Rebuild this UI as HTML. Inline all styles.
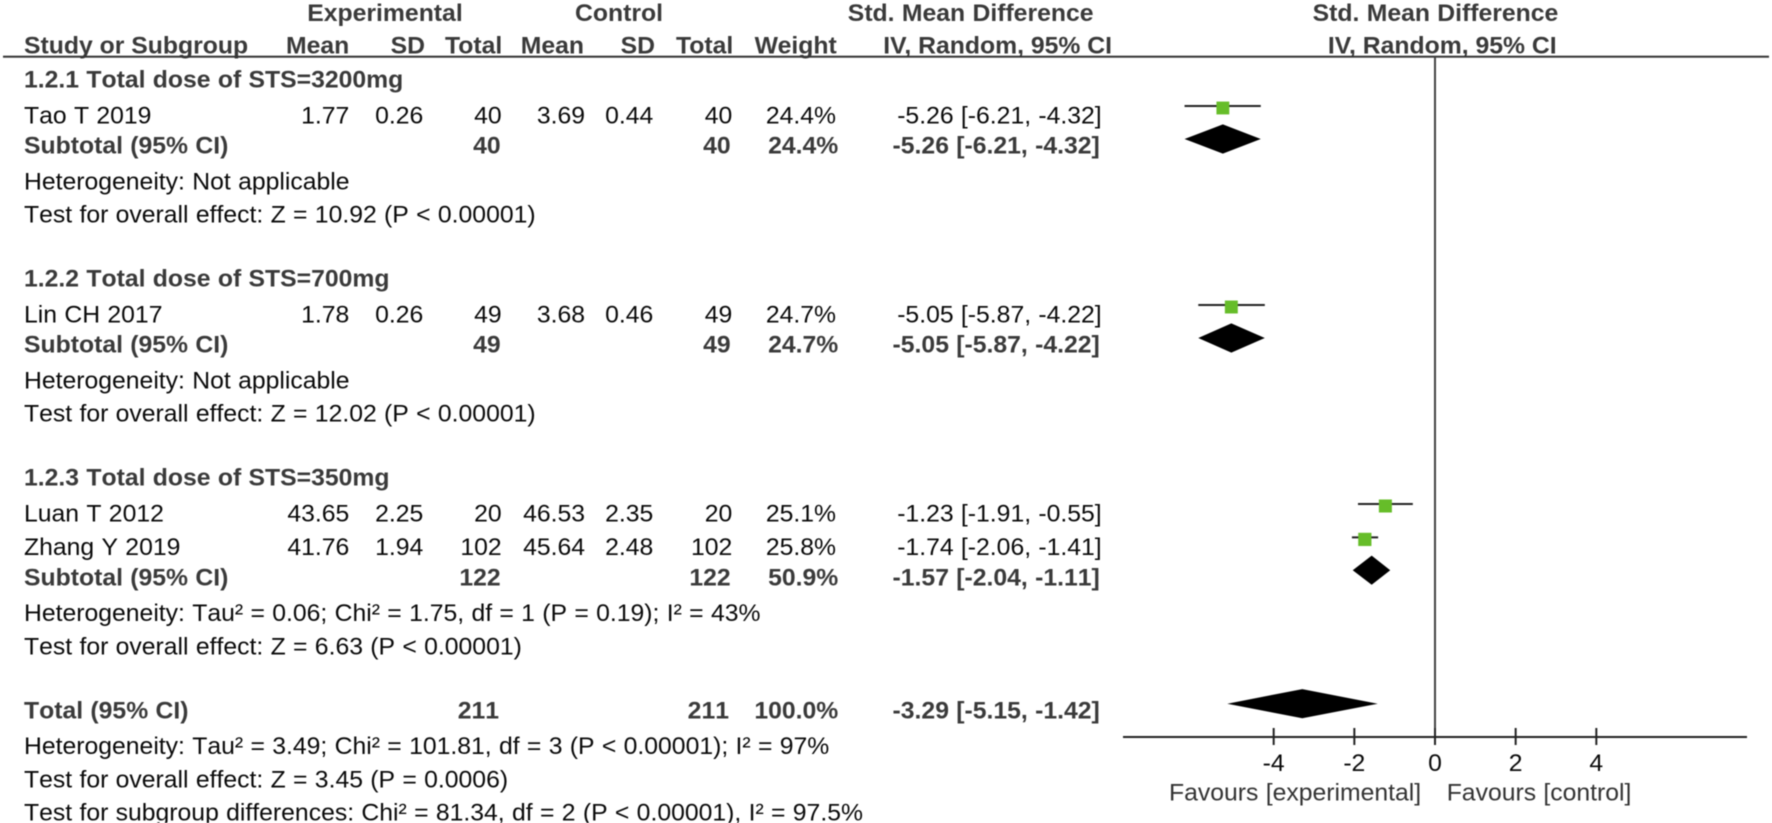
<!DOCTYPE html>
<html lang="en">
<head>
<meta charset="utf-8">
<title>Forest plot: Std. Mean Difference</title>
<style>
html, body { margin: 0; padding: 0; background: #fff; }
body { width: 1772px; height: 823px; overflow: hidden; }
svg { display: block; filter: blur(0.4px); }
text { font-family: "Liberation Sans", Arial, sans-serif; font-size: 24.75px; fill: #0a0a0a; font-kerning: none; word-spacing: 0.45px; }
.b text, text.b { font-weight: 700; fill: #3a3a3a; }
.k text { font-kerning: normal; word-spacing: 0; }
.e { text-anchor: end; }
.m { text-anchor: middle; }
.f { fill: #333; }
</style>
</head>
<body>
<svg id="forest" xmlns="http://www.w3.org/2000/svg" width="1772" height="823" viewBox="0 0 1772 823">
  <g class="b" transform="translate(0,21) scale(1,0.98)">
    <text class="m" x="385">Experimental</text>
    <text class="m" x="619">Control</text>
    <text class="e" x="1093.5">Std. Mean Difference</text>
    <text class="m" x="1435.5">Std. Mean Difference</text>
  </g>
  <g class="b k" transform="translate(0,53.3) scale(1,0.98)">
    <text x="24">Study or Subgroup</text>
    <text class="e" x="349.3">Mean</text>
    <text class="e" x="425">SD</text>
    <text class="e" x="502.3">Total</text>
    <text class="e" x="584">Mean</text>
    <text class="e" x="655">SD</text>
    <text class="e" x="733.3">Total</text>
    <text class="e" x="836.7">Weight</text>
    <text class="e" x="1112">IV, Random, 95% CI</text>
    <text class="e" x="1556.7">IV, Random, 95% CI</text>
  </g>
  <rect x="3" y="55.7" width="1766" height="2" fill="#333"></rect>

  <!-- Group 1.2.1 -->
  <g class="b" transform="translate(0,87.7) scale(1,0.98)">
    <text x="24">1.2.1 Total dose of STS=3200mg</text>
  </g>
  <g transform="translate(0,123.3) scale(1,0.98)">
    <text x="24">Tao T 2019</text>
    <text class="e" x="349.3">1.77</text>
    <text class="e" x="423.3">0.26</text>
    <text class="e" x="501.7">40</text>
    <text class="e" x="585">3.69</text>
    <text class="e" x="653.3">0.44</text>
    <text class="e" x="732.3">40</text>
    <text class="e" x="836">24.4%</text>
    <text class="e" x="1101.7">-5.26 [-6.21, -4.32]</text>
  </g>
  <g class="b" transform="translate(0,153.3) scale(1,0.98)">
    <text x="24">Subtotal (95% CI)</text>
    <text class="e" x="500.7">40</text>
    <text class="e" x="730.7">40</text>
    <text class="e" x="838.3">24.4%</text>
    <text class="e" x="1099.8">-5.26 [-6.21, -4.32]</text>
  </g>
  <g transform="translate(0,189.3) scale(1,0.98)">
    <text x="24">Heterogeneity: Not applicable</text>
  </g>
  <g transform="translate(0,222.7) scale(1,0.98)">
    <text x="24">Test for overall effect: Z = 10.92 (P &lt; 0.00001)</text>
  </g>

  <!-- Group 1.2.2 -->
  <g class="b" transform="translate(0,286.7) scale(1,0.98)">
    <text x="24">1.2.2 Total dose of STS=700mg</text>
  </g>
  <g transform="translate(0,322.3) scale(1,0.98)">
    <text x="24">Lin CH 2017</text>
    <text class="e" x="349.3">1.78</text>
    <text class="e" x="423.3">0.26</text>
    <text class="e" x="501.7">49</text>
    <text class="e" x="585">3.68</text>
    <text class="e" x="653.3">0.46</text>
    <text class="e" x="732.3">49</text>
    <text class="e" x="836">24.7%</text>
    <text class="e" x="1101.7">-5.05 [-5.87, -4.22]</text>
  </g>
  <g class="b" transform="translate(0,352.3) scale(1,0.98)">
    <text x="24">Subtotal (95% CI)</text>
    <text class="e" x="500.7">49</text>
    <text class="e" x="730.7">49</text>
    <text class="e" x="838.3">24.7%</text>
    <text class="e" x="1099.8">-5.05 [-5.87, -4.22]</text>
  </g>
  <g transform="translate(0,388.3) scale(1,0.98)">
    <text x="24">Heterogeneity: Not applicable</text>
  </g>
  <g transform="translate(0,421.7) scale(1,0.98)">
    <text x="24">Test for overall effect: Z = 12.02 (P &lt; 0.00001)</text>
  </g>

  <!-- Group 1.2.3 -->
  <g class="b" transform="translate(0,485.7) scale(1,0.98)">
    <text x="24">1.2.3 Total dose of STS=350mg</text>
  </g>
  <g transform="translate(0,521.4) scale(1,0.98)">
    <text x="24">Luan T 2012</text>
    <text class="e" x="349.3">43.65</text>
    <text class="e" x="423.3">2.25</text>
    <text class="e" x="501.7">20</text>
    <text class="e" x="585">46.53</text>
    <text class="e" x="653.3">2.35</text>
    <text class="e" x="732.3">20</text>
    <text class="e" x="836">25.1%</text>
    <text class="e" x="1101.7">-1.23 [-1.91, -0.55]</text>
  </g>
  <g transform="translate(0,554.8) scale(1,0.98)">
    <text x="24">Zhang Y 2019</text>
    <text class="e" x="349.3">41.76</text>
    <text class="e" x="423.3">1.94</text>
    <text class="e" x="501.7">102</text>
    <text class="e" x="585">45.64</text>
    <text class="e" x="653.3">2.48</text>
    <text class="e" x="732.3">102</text>
    <text class="e" x="836">25.8%</text>
    <text class="e" x="1101.7">-1.74 [-2.06, -1.41]</text>
  </g>
  <g class="b" transform="translate(0,585.3) scale(1,0.98)">
    <text x="24">Subtotal (95% CI)</text>
    <text class="e" x="500.7">122</text>
    <text class="e" x="730.7">122</text>
    <text class="e" x="838.3">50.9%</text>
    <text class="e" x="1099.8">-1.57 [-2.04, -1.11]</text>
  </g>
  <g transform="translate(0,621) scale(1,0.98)">
    <text x="24">Heterogeneity: Tau² = 0.06; Chi² = 1.75, df = 1 (P = 0.19); I² = 43%</text>
  </g>
  <g transform="translate(0,654.4) scale(1,0.98)">
    <text x="24">Test for overall effect: Z = 6.63 (P &lt; 0.00001)</text>
  </g>

  <!-- Total -->
  <g class="b" transform="translate(0,718.3) scale(1,0.98)">
    <text x="24">Total (95% CI)</text>
    <text class="e" x="499">211</text>
    <text class="e" x="729">211</text>
    <text class="e" x="838.3">100.0%</text>
    <text class="e" x="1099.8">-3.29 [-5.15, -1.42]</text>
  </g>
  <g transform="translate(0,754) scale(1,0.98)">
    <text x="24">Heterogeneity: Tau² = 3.49; Chi² = 101.81, df = 3 (P &lt; 0.00001); I² = 97%</text>
  </g>
  <g transform="translate(0,787.3) scale(1,0.98)">
    <text x="24">Test for overall effect: Z = 3.45 (P = 0.0006)</text>
  </g>
  <g transform="translate(0,820.7) scale(1,0.98)">
    <text x="24">Test for subgroup differences: Chi² = 81.34, df = 2 (P &lt; 0.00001), I² = 97.5%</text>
  </g>

  <g transform="translate(0,800.7) scale(1,0.98)">
    <text class="f" x="1169">Favours [experimental]</text>
    <text class="f" x="1446.7">Favours [control]</text>
  </g>
  <g id="marks"></g>
</svg>
<script>
const tickValues = [-4, -2, 0, 2, 4];
const tickLabels = ["-4", "-2", "0", "2", "4"];

const studyNames = ["Tao T 2019", "Lin CH 2017", "Luan T 2012", "Zhang Y 2019"];
const studyGroups = [0, 1, 2, 2];
const studyEffects = [-5.26, -5.05, -1.23, -1.74];
const studyLowers = [-6.21, -5.87, -1.91, -2.06];
const studyUppers = [-4.32, -4.22, -0.55, -1.41];
const studyWeights = [24.4, 24.7, 25.1, 25.8];

const subtotalEffects = [-5.26, -5.05, -1.57];
const subtotalLowers = [-6.21, -5.87, -2.04];
const subtotalUppers = [-4.32, -4.22, -1.11];

const totalEffect = -3.29;
const totalLower = -5.15;
const totalUpper = -1.42;

const SVG_NS = "http://www.w3.org/2000/svg";
const layer = document.getElementById("marks");

function xScale(v) { return 1435 + v * 40.33; }
function studiesBefore(i) {
  let n = 0;
  for (let j = 0; j < i; j++) { if (studyGroups[j] === studyGroups[i]) n++; }
  return n;
}
function studiesIn(g) { return studyGroups.filter(function (s) { return s === g; }).length; }
function studyY(i) { return 106 + 199 * studyGroups[i] + 33.4 * studiesBefore(i); }
function subtotalY(g) { return 139 + 199 * g + 33.2 * (studiesIn(g) - 1); }
const totalY = 703.7;
const axisY = 737;

function make(tag, attrs) {
  const el = document.createElementNS(SVG_NS, tag);
  Object.keys(attrs).forEach(function (k) { el.setAttribute(k, attrs[k]); });
  layer.appendChild(el);
  return el;
}
function diamond(lo, mid, hi, y) {
  return make("polygon", {
    points: [xScale(lo) + "," + y, xScale(mid) + "," + (y - 14.6), xScale(hi) + "," + y, xScale(mid) + "," + (y + 14.6)].join(" "),
    fill: "#000"
  });
}

const zeroLine = make("line", { x1: xScale(0), x2: xScale(0), y1: 57, y2: axisY, stroke: "#444", "stroke-width": 2 });



const axisLine = make("line", { x1: 1123, x2: 1747, y1: axisY, y2: axisY, stroke: "#222", "stroke-width": 2 });



tickValues.forEach(function (v, i) {
  const tick = make("line", { x1: xScale(v), x2: xScale(v), y1: 728, y2: 745, stroke: "#222", "stroke-width": 2 });
  
  
  const label = make("text", { x: xScale(v), y: 0, "text-anchor": "middle", transform: "translate(0,771) scale(1,0.98)" });
  label.textContent = tickLabels[i];
  
  
});

studyNames.forEach(function (name, i) {
  const y = studyY(i);
  const ci = make("line", { x1: xScale(studyLowers[i]), x2: xScale(studyUppers[i]), y1: y, y2: y, stroke: "#222", "stroke-width": 2 });
  
  
  const size = 13 * Math.sqrt(studyWeights[i] / 25);
  const sq = make("rect", { x: xScale(studyEffects[i]) - size / 2, y: y + 2 - size / 2, width: size, height: size, fill: "#66bd29" });
  
  
});

subtotalEffects.forEach(function (e, g) {
  const d = diamond(subtotalLowers[g], e, subtotalUppers[g], subtotalY(g));
  
  
});

const totalDiamond = diamond(totalLower, totalEffect, totalUpper, totalY);


</script>
</body>
</html>
